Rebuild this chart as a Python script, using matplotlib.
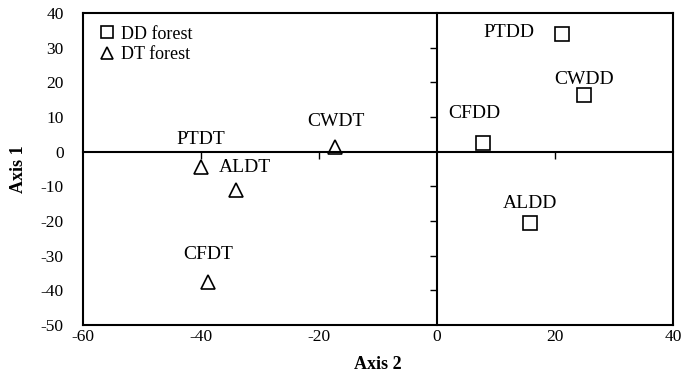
import numpy as np
import matplotlib
matplotlib.use("Agg")
import matplotlib.pyplot as plt

plt.rcParams['font.family'] = ['Liberation Serif', 'DejaVu Serif']
plt.rcParams['axes.unicode_minus'] = False

# DD forest (squares)
dd_names = ["PTDD", "CWDD", "CFDD", "ALDD"]
dd_x = [21.2, 24.9, 7.8, 15.8]
dd_y = [33.9, 16.3, 2.5, -20.5]

# DT forest (triangles)
dt_names = ["PTDT", "ALDT", "CWDT", "CFDT"]
dt_x = [-40.0, -34.0, -17.2, -38.8]
dt_y = [-4.4, -11.0, 1.4, -37.5]

# label offsets (data units)
dd_off = [(-9.0, 0.5), (0, 4.6), (-1.4, 8.4), (0, 5.6)]
dt_off = [(0, 7.8), (1.5, 6.3), (0, 7.3), (0, 7.9)]

fig = plt.figure(figsize=(6.81, 3.84), dpi=100)
pos = [0.122, 0.154, 0.866, 0.812]
ax = fig.add_axes(pos)

ax.plot(dd_x, dd_y, 's', ms=10, mfc='white', mec='black', mew=1.2, ls='none', label='DD forest')
ax.plot(dt_x, dt_y, '^', ms=10, mfc='white', mec='black', mew=1.2, ls='none', label='DT forest')

for n, x, y, o in zip(dd_names, dd_x, dd_y, dd_off):
    ax.text(x + o[0], y + o[1], n, ha='center', va='center', fontsize=14)
for n, x, y, o in zip(dt_names, dt_x, dt_y, dt_off):
    ax.text(x + o[0], y + o[1], n, ha='center', va='center', fontsize=14)

ax.set_xlim(-60, 40)
ax.set_ylim(-50, 40)
ax.set_xticks(np.arange(-60, 41, 20))
ax.set_yticks(np.arange(-50, 41, 10))
ax.tick_params(length=0, labelsize=12.5)
ax.tick_params(axis='y', pad=14)
ax.tick_params(axis='x', pad=3)
for s in ax.spines.values():
    s.set_linewidth(1.5)
ax.set_xlabel('Axis 2', fontsize=13, fontweight='bold', labelpad=8)
ax.set_ylabel('Axis 1', fontsize=13, fontweight='bold', labelpad=10)

leg = ax.legend(loc='upper left', frameon=False, fontsize=13, handletextpad=0.2,
                borderaxespad=0.3, labelspacing=0.2, handlelength=1.2, markerscale=0.85)

# axes through origin with ticks
ax2 = fig.add_axes(pos)
ax2.patch.set_visible(False)
for s in ['top', 'right']:
    ax2.spines[s].set_visible(False)
ax2.set_xlim(-60, 40)
ax2.set_ylim(-50, 40)
ax2.spines['left'].set_position(('data', 0))
ax2.spines['bottom'].set_position(('data', 0))
ax2.spines['left'].set_linewidth(1.5)
ax2.spines['bottom'].set_linewidth(1.5)
ax2.set_xticks([-40, -20, 20])
ax2.set_yticks([-40, -30, -20, -10, 10, 20, 30])
ax2.tick_params(direction='out', length=5, width=1, labelleft=False, labelbottom=False)

fig.savefig('out.png', dpi=100)
